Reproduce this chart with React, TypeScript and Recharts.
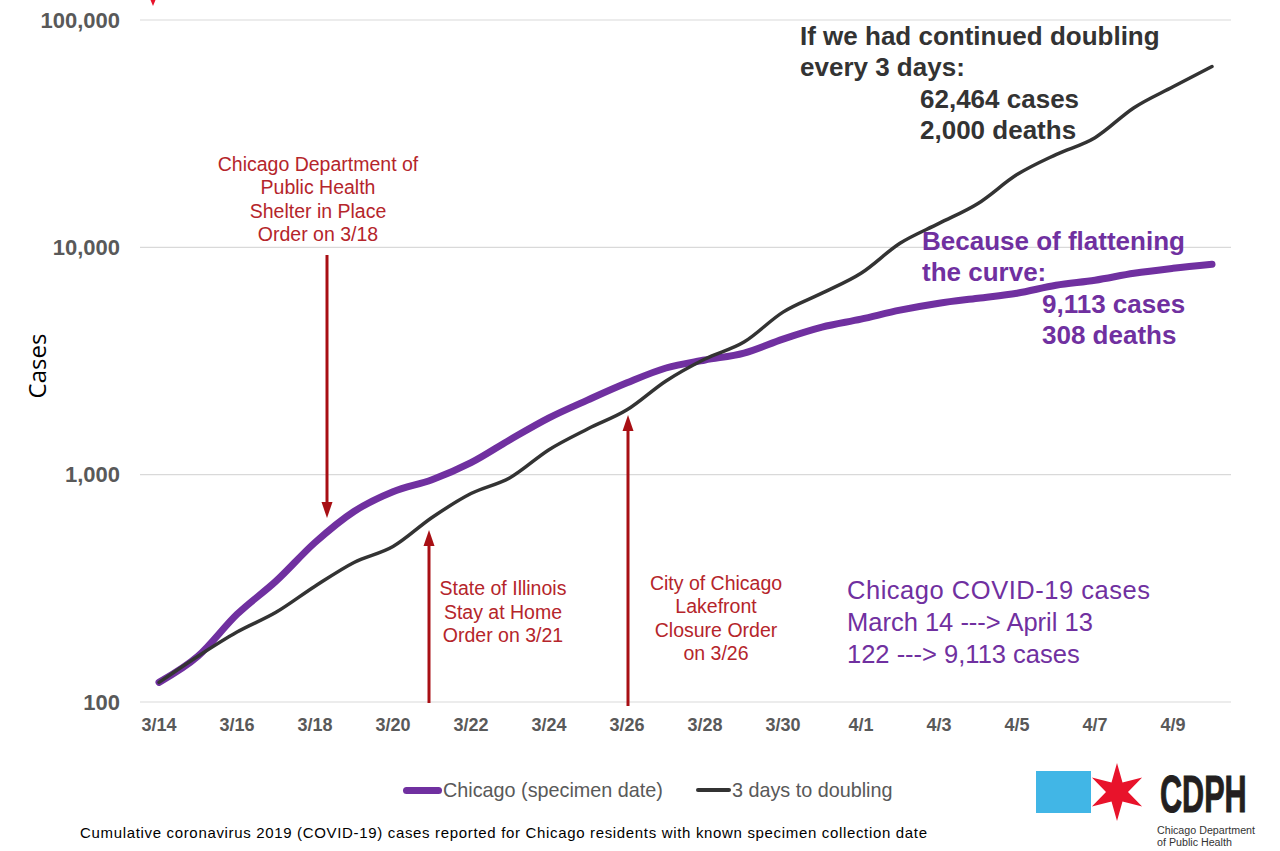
import React from "react";
import { LineChart, Line, XAxis, YAxis, CartesianGrid, Legend } from "recharts";

const dates = [
  "3/14", "3/15", "3/16", "3/17", "3/18", "3/19", "3/20", "3/21", "3/22", "3/23",
  "3/24", "3/25", "3/26", "3/27", "3/28", "3/29", "3/30", "3/31", "4/1", "4/2",
  "4/3", "4/4", "4/5", "4/6", "4/7", "4/8", "4/9", "4/10",
];

const chicagoCases = [
  122, 159, 243, 340, 503, 689, 842, 950, 1129, 1425,
  1778, 2133, 2535, 2946, 3194, 3427, 3948, 4456, 4830, 5293,
  5680, 5974, 6285, 6812, 7166, 7690, 8086, 8420,
];

const doublingCases = [
  122, 159, 203, 248, 323, 411, 483, 648, 826, 970,
  1288, 1592, 1928, 2583, 3228, 3831, 5187, 6285, 7690, 10420,
  12740, 15590, 20890, 25580, 30370, 41120, 50820, 62464,
];

const yTicks = [100, 1000, 10000, 100000];
const seriesNames = ["Chicago (specimen date)", "3 days to doubling"];

const data = dates.map((d, i) => ({
  date: d,
  chicago: chicagoCases[i],
  doubling: doublingCases[i],
}));

const FONT = "'Liberation Sans', Arial, sans-serif";
const RED = "#A80F14";
const RED_TEXT = "#B5252B";
const PURPLE = "#7030A0";

function renderLegend(props: any) {
  const items = [...(props.payload || [])].sort(
    (a: any, b: any) => seriesNames.indexOf(a.value) - seriesNames.indexOf(b.value)
  );
  const thick = [7, 4];
  return (
    <div style={{ display: "flex", alignItems: "center", height: 24, fontFamily: FONT, fontSize: 19.8, color: "#595959" }}>
      {items.map((entry: any, i: number) => (
        <div key={entry.value} style={{ display: "flex", alignItems: "center", marginRight: 33 }}>
          <span
            style={{
              display: "inline-block",
              width: i === 0 ? 39 : 35,
              height: thick[i],
              borderRadius: thick[i] / 2,
              background: entry.color,
            }}
          />
          <span style={{ marginLeft: 1 }}>{entry.value}</span>
        </div>
      ))}
    </div>
  );
}

function Star({ cx, cy, r, ri }: any) {
  const pts: string[] = [];
  for (let k = 0; k < 12; k++) {
    const a = -Math.PI / 2 + (k * Math.PI) / 6;
    const rad = k % 2 === 0 ? r : ri;
    pts.push(`${cx + rad * Math.cos(a)},${cy + rad * Math.sin(a)}`);
  }
  return <polygon points={pts.join(" ")} fill="#E8132B" />;
}

function Arrow({ x, from, tip }: any) {
  const dir = tip > from ? 1 : -1;
  const base = tip - dir * 16;
  return (
    <g>
      <line x1={x} y1={from} x2={x} y2={base} stroke={RED} strokeWidth={3} />
      <polygon points={`${x - 5.5},${base} ${x + 5.5},${base} ${x},${tip}`} fill={RED} />
    </g>
  );
}

function Overlay() {
  return (
    <svg
      width={1280}
      height={851}
      style={{ position: "absolute", left: 0, top: 0, pointerEvents: "none" }}
    >
      {/* y axis title */}
      <text
        x={0}
        y={0}
        transform="translate(46,366) rotate(-90)"
        textAnchor="middle"
        fontFamily="'Open Sans', sans-serif"
        fontSize={24}
        fill="#000"
      >
        Cases
      </text>

      {/* arrows */}
      <polygon points="148,-6 158,-6 153,6" fill="#E8132B" />
      <Arrow x={327} from={255} tip={518} />
      <Arrow x={429} from={703} tip={530} />
      <Arrow x={628} from={706} tip={415} />

      {/* red notes */}
      <g fontFamily={FONT} fontSize={19.5} fill={RED_TEXT} textAnchor="middle">
        <text x={318} y={171}>Chicago Department of</text>
        <text x={318} y={194}>Public Health</text>
        <text x={318} y={218}>Shelter in Place</text>
        <text x={318} y={241}>Order on 3/18</text>

        <text x={503} y={595}>State of Illinois</text>
        <text x={503} y={619}>Stay at Home</text>
        <text x={503} y={642}>Order on 3/21</text>

        <text x={716} y={590}>City of Chicago</text>
        <text x={716} y={613}>Lakefront</text>
        <text x={716} y={637}>Closure Order</text>
        <text x={716} y={660}>on 3/26</text>
      </g>

      {/* doubling callout */}
      <g fontFamily={FONT} fontSize={26} fontWeight="bold" fill="#333">
        <text x={800} y={45}>If we had continued doubling</text>
        <text x={800} y={76}>every 3 days:</text>
        <text x={920} y={108}>62,464 cases</text>
        <text x={920} y={139}>2,000 deaths</text>
      </g>

      {/* flattening callout */}
      <g fontFamily={FONT} fontSize={26} fontWeight="bold" fill={PURPLE}>
        <text x={922} y={250}>Because of flattening</text>
        <text x={922} y={281}>the curve:</text>
        <text x={1042} y={313}>9,113 cases</text>
        <text x={1042} y={344}>308 deaths</text>
      </g>

      {/* summary */}
      <g fontFamily={FONT} fontSize={25.5} fill={PURPLE}>
        <text x={847} y={599} textLength={303} lengthAdjust="spacing">Chicago COVID-19 cases</text>
        <text x={847} y={631}>March 14 ---&gt; April 13</text>
        <text x={847} y={663}>122 ---&gt; 9,113 cases</text>
      </g>

      {/* footer */}
      <text
        x={80}
        y={838}
        fontFamily={FONT}
        fontSize={15}
        fill="#000"
        textLength={847}
        lengthAdjust="spacing"
      >
        Cumulative coronavirus 2019 (COVID-19) cases reported for Chicago residents with known specimen collection date
      </text>

      {/* logo */}
      <rect x={1036} y={771} width={55} height={42} fill="#41B6E6" />
      <Star cx={1117} cy={792} r={29} ri={11} />
      <text
        transform="translate(1160,812) scale(0.6,1)"
        fontFamily={FONT}
        fontWeight="bold"
        fontSize={51}
        fill="#231F20"
        stroke="#231F20"
        strokeWidth={1}
      >
        CDPH
      </text>
      <g fontFamily={FONT} fontSize={11.5} fill="#333">
        <text transform="translate(1157,834) scale(0.93,1)">Chicago Department</text>
        <text transform="translate(1157,846) scale(0.93,1)">of Public Health</text>
      </g>
    </svg>
  );
}

export default function App() {
  return (
    <div style={{ position: "absolute", left: 0, top: 0, width: 1280, height: 851, background: "#fff" }}>
      <LineChart
        width={1280}
        height={851}
        data={data}
        margin={{ top: 20, right: 49, left: 40, bottom: 95 }}
      >
        <CartesianGrid vertical={false} stroke="#d9d9d9" strokeWidth={1.2} />
        <XAxis
          dataKey="date"
          interval={1}
          tickLine={false}
          axisLine={false}
          tickSize={0}
          tickMargin={16}
          height={30}
          padding={{ left: 19, right: 19 }}
          tick={{ fill: "#595959", fontSize: 18, fontWeight: "bold", fontFamily: FONT }}
        />
        <YAxis
          scale="log"
          domain={[100, 100000]}
          ticks={yTicks}
          allowDataOverflow
          width={100}
          tickLine={false}
          axisLine={false}
          tickSize={0}
          tickMargin={20}
          tickFormatter={(v: number) => v.toLocaleString("en-US")}
          tick={{ fill: "#595959", fontSize: 22, fontWeight: "bold", fontFamily: FONT }}
        />
        <Legend
          verticalAlign="bottom"
          content={renderLegend}
          wrapperStyle={{ left: 403, top: 778, bottom: "auto", width: 560 }}
        />
        <Line
          dataKey="chicago"
          name={seriesNames[0]}
          type="monotone"
          stroke={PURPLE}
          strokeWidth={7}
          strokeLinecap="round"
          strokeLinejoin="round"
          dot={false}
          activeDot={false}
          isAnimationActive={false}
        />
        <Line
          dataKey="doubling"
          name={seriesNames[1]}
          type="monotone"
          stroke="#333333"
          strokeWidth={3.5}
          strokeLinecap="round"
          strokeLinejoin="round"
          dot={false}
          activeDot={false}
          isAnimationActive={false}
        />
      </LineChart>
      <Overlay />
    </div>
  );
}
